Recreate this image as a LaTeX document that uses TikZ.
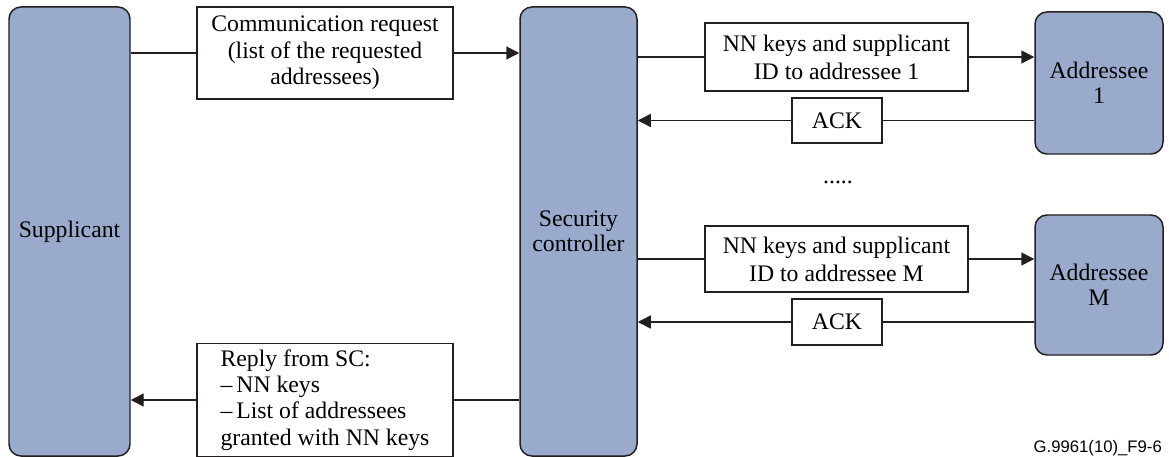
\documentclass[tikz,border=0pt]{standalone}
\usepackage{fontspec}
\setmainfont{Liberation Serif}
\setsansfont{Liberation Sans}
\usepackage{xcolor}
\definecolor{cEntity}{HTML}{9AAACC}
\definecolor{cLine}{HTML}{231F20}
\usetikzlibrary{positioning,arrows.meta}
\tikzset{
  node-entity/.style={draw=cLine,line width=0.85pt,rounded corners=2.4mm,
    fill=cEntity,align=center,font=\fontsize{13.5}{14.5}\selectfont},
  node-msg/.style={draw=cLine,line width=0.85pt,fill=white,align=center,
    font=\fontsize{13.5}{15}\selectfont},
  node-key/.style={node-msg,minimum width=52.6mm,font=\fontsize{13.5}{16}\selectfont},
  link/.style={line width=0.85pt,draw=cLine},
  arrow/.style={-{Triangle[length=2.6mm,width=2.6mm]},line width=0.85pt,draw=cLine},
}

\begin{document}
\begin{tikzpicture}[x=0.2mm,y=-0.2mm]
  \useasboundingbox (0,0) rectangle (1169,457);
  % entities
  \node[node-entity,minimum width=24.2mm,minimum height=89.8mm] (sup) at (69.5,231.5) {Supplicant};
  \node[node-entity,minimum width=23.4mm,minimum height=89.8mm] (sc) at (578.5,231.5) {Security\\controller};
  \node[node-entity,minimum width=25.6mm,minimum height=28.4mm] (a1) at (1099,83) {Addressee\\1};
  \node[node-entity,minimum width=25.6mm,minimum height=28mm] (am) at (1099,285) {Addressee\\M};
  % messages
  \node[node-msg,minimum width=51.2mm,minimum height=18.4mm] (req) at (325,53) {Communication request\\(list of the requested\\addressees)};
  \node[node-key,minimum height=13.6mm] (k1) at (836.5,57) {NN keys and supplicant\\ID to addressee 1};
  \node[node-msg,minimum width=18mm,minimum height=9mm] (ack1) at (837,120.5) {ACK};
  \node[font=\fontsize{13.5}{14.5}\selectfont] (dots) at (838,182) {.....};
  \node[node-key,minimum height=13.2mm] (km) at (836.5,259) {NN keys and supplicant\\ID to addressee M};
  \node[node-msg,minimum width=18mm,minimum height=9.2mm] (ackm) at (837,322) {ACK};
  \node[node-msg,minimum width=51.2mm,minimum height=22.4mm,align=left] (rep) at (325,400) {Reply from SC:\\--\,NN keys\\--\,List of addressees\\granted with NN keys};
  \node[anchor=east,font=\sffamily\fontsize{9.5}{11}\selectfont] (fig) at (1168,448) {G.9961(10)\_F9-6};
  % connectors
  \draw[link]  (sup.east |- req.west) -- (req.west);
  \draw[arrow] (req.east) -- (sc.west |- req.east);
  \draw[link]  (sc.east |- k1.west) -- (k1.west);
  \draw[arrow] (k1.east) -- (a1.west |- k1.east);
  \draw[link]  (a1.west |- ack1.east) -- (ack1.east);
  \draw[arrow] (ack1.west) -- (sc.east |- ack1.west);
  \draw[link]  (sc.east |- km.west) -- (km.west);
  \draw[arrow] (km.east) -- (am.west |- km.east);
  \draw[link]  (am.west |- ackm.east) -- (ackm.east);
  \draw[arrow] (ackm.west) -- (sc.east |- ackm.west);
  \draw[link]  (sc.west |- rep.east) -- (rep.east);
  \draw[arrow] (rep.west) -- (sup.east |- rep.west);
\end{tikzpicture}
\end{document}
